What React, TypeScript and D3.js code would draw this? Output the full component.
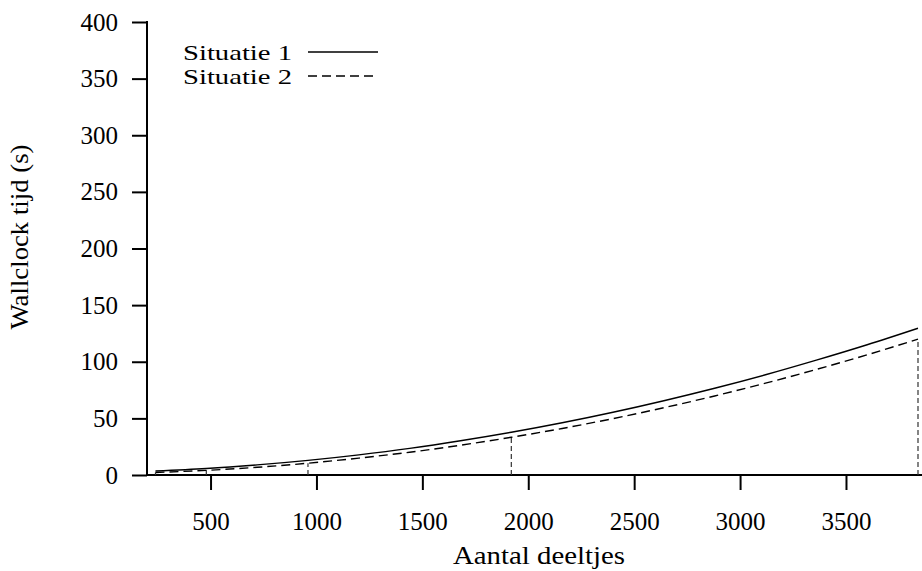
import React, { useEffect, useRef } from 'react';
import * as d3 from 'd3';

// number of particles (x values)
const deeltjes = [240, 480, 720, 960, 1200, 1440, 1680, 1920, 2160, 2400, 2640, 2880, 3120, 3360, 3600, 3840];
const situatie1 = [3.5, 5.7, 8.9, 12.9, 17.8, 23.5, 30.2, 37.7, 46.1, 55.4, 65.6, 76.6, 88.5, 101.4, 115.0, 129.6];
const situatie2 = [2.2, 4.1, 6.8, 10.4, 14.9, 20.1, 26.3, 33.3, 41.1, 49.8, 59.4, 69.8, 81.1, 93.2, 106.1, 120.0];
// x values where situatie 2 drops down to the axis
const dropPunten = [240, 480, 960, 1920, 3840];

const xTicks = [500, 1000, 1500, 2000, 2500, 3000, 3500];
const yTicks = [0, 50, 100, 150, 200, 250, 300, 350, 400];

const width = 922;
const height = 571;
const font = "'Liberation Serif', 'DejaVu Serif', serif";

const App = () => {
  const svgRef = useRef(null);

  useEffect(() => {
    const svg = d3.select(svgRef.current);
    svg.selectAll('*').remove();

    const margin = { top: 22, right: 4, bottom: 96, left: 147 };

    const xScale = d3.scaleLinear().domain([200, 3840]).range([margin.left, 918]);
    const yScale = d3.scaleLinear().domain([0, 400]).range([height - margin.bottom, margin.top]);

    const y0 = yScale(0);

    // ticks
    const xAxis = svg
      .append('g')
      .attr('transform', `translate(0, ${y0})`)
      .call(d3.axisBottom(xScale).tickValues(xTicks).tickSize(15).tickPadding(22).tickFormat(d3.format('d')));
    const yAxis = svg
      .append('g')
      .attr('transform', `translate(${margin.left}, 0)`)
      .call(d3.axisLeft(yScale).tickValues(yTicks).tickSize(15).tickPadding(14).tickFormat(d3.format('d')));

    [xAxis, yAxis].forEach(a => {
      a.select('.domain').remove();
      a.attr('font-family', null).attr('font-size', null);
      a.selectAll('line').attr('stroke', '#000').attr('stroke-width', 2);
      a.selectAll('text').attr('fill', '#000').style('font-family', font).style('font-size', '25px');
    });

    // border lines (left + bottom)
    svg
      .append('path')
      .attr('d', `M${margin.left},${margin.top - 1}V${y0}H${width}`)
      .attr('fill', 'none')
      .attr('stroke', '#000')
      .attr('stroke-width', 2);

    const line = d3
      .line()
      .x(d => xScale(d[0]))
      .y(d => yScale(d[1]))
      .curve(d3.curveMonotoneX);

    // drop lines for situatie 2
    svg
      .append('g')
      .selectAll('line')
      .data(dropPunten)
      .join('line')
      .attr('x1', d => xScale(d))
      .attr('x2', d => xScale(d))
      .attr('y1', y0)
      .attr('y2', d => yScale(situatie2[deeltjes.indexOf(d)]))
      .attr('stroke', '#333')
      .attr('stroke-width', 1.2)
      .attr('stroke-dasharray', '5,3');

    svg
      .append('path')
      .datum(deeltjes.map((x, i) => [x, situatie1[i]]))
      .attr('fill', 'none')
      .attr('stroke', '#000')
      .attr('stroke-width', 1.4)
      .attr('d', line);

    svg
      .append('path')
      .datum(deeltjes.map((x, i) => [x, situatie2[i]]))
      .attr('fill', 'none')
      .attr('stroke', '#000')
      .attr('stroke-width', 1.4)
      .attr('stroke-dasharray', '9,5')
      .attr('d', line);

    // legend
    const legend = [
      { label: 'Situatie 1', dash: null, y: 60 },
      { label: 'Situatie 2', dash: '9,5', y: 84 },
    ];
    legend.forEach(l => {
      svg
        .append('text')
        .attr('x', 292)
        .attr('y', l.y)
        .attr('text-anchor', 'end')
        .style('font-family', font)
        .style('font-size', '22px')
        .attr('textLength', 109)
        .attr('lengthAdjust', 'spacingAndGlyphs')
        .text(l.label);
      svg
        .append('line')
        .attr('x1', 308)
        .attr('x2', 378)
        .attr('y1', l.y - 8)
        .attr('y2', l.y - 8)
        .attr('stroke', '#000')
        .attr('stroke-width', 1.4)
        .attr('stroke-dasharray', l.dash);
    });

    // axis titles
    svg
      .append('text')
      .attr('x', 539)
      .attr('y', 564)
      .attr('text-anchor', 'middle')
      .style('font-family', font)
      .style('font-size', '25px')
      .attr('textLength', 172)
      .attr('lengthAdjust', 'spacingAndGlyphs')
      .text('Aantal deeltjes');

    svg
      .append('text')
      .attr('transform', 'translate(28, 237) rotate(-90)')
      .attr('text-anchor', 'middle')
      .style('font-family', font)
      .style('font-size', '25px')
      .attr('textLength', 185)
      .attr('lengthAdjust', 'spacingAndGlyphs')
      .text('Wallclock tijd (s)');
  }, []);

  return (
    <svg
      ref={svgRef}
      width={width}
      height={height}
      style={{ position: 'absolute', left: 0, top: 0, background: '#fff' }}
    ></svg>
  );
};

export default App;
